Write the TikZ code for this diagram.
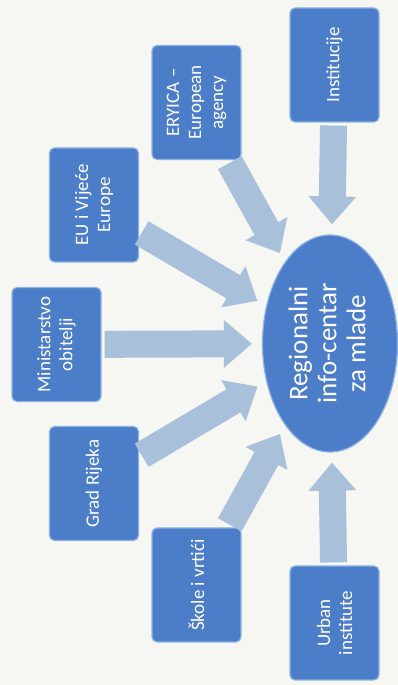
\documentclass[tikz,border=0pt]{standalone}
\usepackage{fontspec}
\setmainfont{Carlito}
\usetikzlibrary{arrows.meta,shapes.geometric}
\definecolor{boxblue}{HTML}{4C7DC9}
\definecolor{boxedge}{HTML}{8DB3E6}
\definecolor{arrblue}{HTML}{A9C0DA}
\definecolor{paper}{HTML}{F6F6F3}
\tikzset{
  srcbox/.style={rectangle, rounded corners=5pt, fill=boxblue, draw=boxedge, line width=1.2pt,
    minimum width=114pt, minimum height=89pt, text=white, align=center, rotate=90,
    font=\fontsize{19}{22}\selectfont, inner sep=2pt},
  hub/.style={ellipse, fill=boxblue, draw=boxedge, line width=1.2pt, minimum width=135pt,
    minimum height=217pt, text=white, align=center,
    font=\fontsize{27}{32}\selectfont, inner sep=0pt},
  bigarrow/.style={draw=arrblue, line width=27pt,
    -{Triangle[width=46pt,length=28pt]}, shorten >=10pt, shorten <=3pt}
}
\begin{document}
\begin{tikzpicture}[x=1pt,y=1pt]
\fill[paper] (0,0) rectangle (398,685);
\useasboundingbox (0,0) rectangle (398,685);
% hub
\node[hub] (hub) at (330,341.5) {\rotatebox{90}{\begin{tabular}{@{}c@{}}Regionalni\\[-3pt] info-centar\\[-3pt] za mlade\end{tabular}}};
% source boxes
\node[srcbox] (inst) at (334.5,620) {Institucije};
\node[srcbox] (ery) at (196.5,582.5) {ERYICA –\\European\\agency};
\node[srcbox] (eu) at (94,480) {EU i Vijeće\\Europe};
\node[srcbox] (min) at (56.5,340.5) {Ministarstvo\\obitelji};
\node[srcbox] (grad) at (94,201.5) {Grad Rijeka};
\node[srcbox] (skole) at (196.5,100) {Škole i vrtići};
\node[srcbox] (urban) at (334.5,62) {Urban\\institute};
% arrows
\draw[bigarrow] (inst) -- (hub);
\draw[bigarrow] (ery) -- (hub);
\draw[bigarrow] (eu) -- (hub);
\draw[bigarrow] (min) -- (hub);
\draw[bigarrow] (grad) -- (hub);
\draw[bigarrow] (skole) -- (hub);
\draw[bigarrow] (urban) -- (hub);
\end{tikzpicture}
\end{document}
